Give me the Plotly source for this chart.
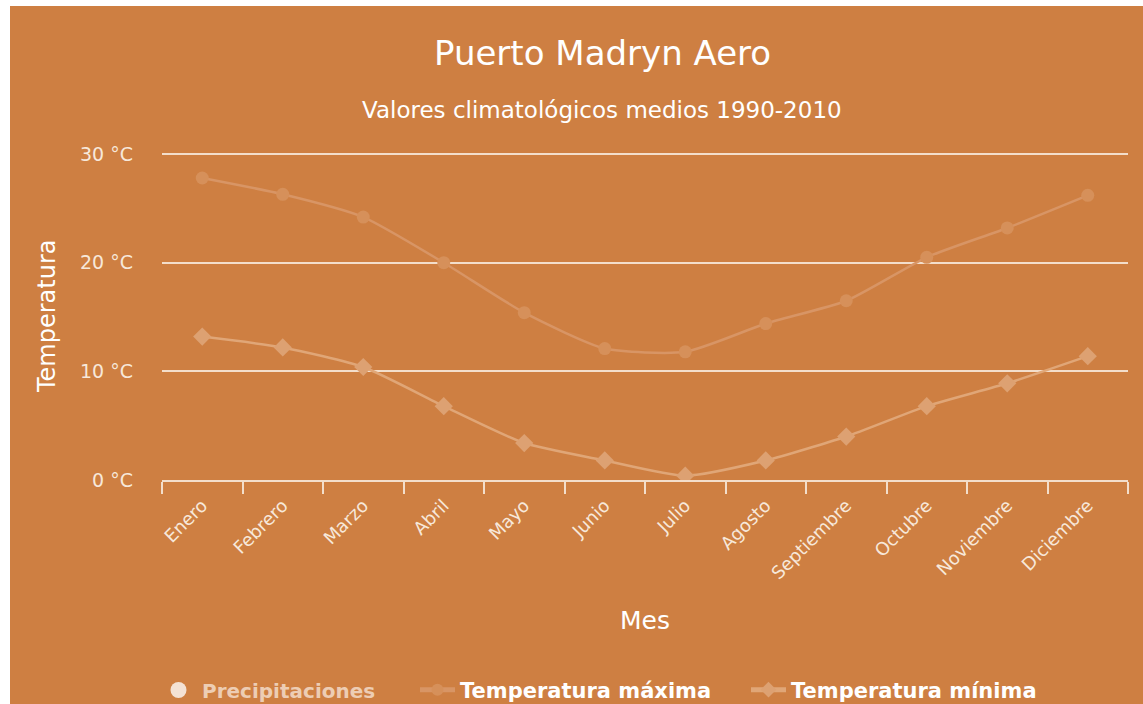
import plotly.graph_objects as go

meses = ["Enero", "Febrero", "Marzo", "Abril", "Mayo", "Junio", "Julio",
         "Agosto", "Septiembre", "Octubre", "Noviembre", "Diciembre"]
temp_max = [27.8, 26.3, 24.2, 20.0, 15.4, 12.1, 11.8, 14.4, 16.5, 20.5, 23.2, 26.2]
temp_min = [13.2, 12.2, 10.4, 6.8, 3.4, 1.8, 0.4, 1.8, 4.0, 6.8, 8.9, 11.4]
precipitaciones = [None] * 12
y_ticks = [0, 10, 20, 30]
y_tick_labels = ["0 °C", "10 °C", "20 °C", "30 °C"]

BG = "#CE7F42"
LIGHT = "#F3DECB"
TXT = "#F7E8DA"
FONT = "DejaVu Sans, Verdana, sans-serif"

W, H = 1143, 704
L, R, T, B = 162, 15, 153, 224
pw, ph = W - L - R, H - T - B


def px(x):
    return (x - L) / pw


def py(y):
    return (H - B - y) / ph


fig = go.Figure()
fig.add_trace(go.Scatter(
    x=meses, y=precipitaciones, name="Precipitaciones", mode="markers", legend="legend",
    marker=dict(symbol="circle", size=18, color="#F4E2D4")))
fig.add_trace(go.Scatter(
    x=meses, y=temp_max, name="Temperatura máxima", mode="lines+markers", legend="legend2",
    line=dict(color="#D89565", width=2.5, shape="spline", smoothing=0.6),
    marker=dict(symbol="circle", size=13, color="#D6905A")))
fig.add_trace(go.Scatter(
    x=meses, y=temp_min, name="Temperatura mínima", mode="lines+markers", legend="legend3",
    line=dict(color="#E0A677", width=2.5, shape="spline", smoothing=0.6),
    marker=dict(symbol="diamond", size=14, color="#DDA172")))

leg_common = dict(orientation="h", xanchor="left", yanchor="middle", y=py(690),
                  bgcolor="rgba(0,0,0,0)", borderwidth=0)

fig.update_layout(
    width=W, height=H,
    margin=dict(l=L, r=R, t=T, b=B, autoexpand=False),
    paper_bgcolor="white",
    plot_bgcolor="rgba(0,0,0,0)",
    showlegend=True,
    legend=dict(x=px(178 - 23), itemwidth=37,
                font=dict(family=FONT, size=20, color="#EDCDB4", weight="bold"), **leg_common),
    legend2=dict(x=px(437 - 22), itemsizing="constant", itemwidth=35,
                 font=dict(family=FONT, size=21, color="white", weight="bold"), **leg_common),
    legend3=dict(x=px(768 - 22), itemsizing="constant", itemwidth=35,
                 font=dict(family=FONT, size=21, color="white", weight="bold"), **leg_common),
    shapes=[dict(type="rect", xref="paper", yref="paper",
                 x0=px(10), x1=px(W + 5), y0=py(H + 5), y1=py(6),
                 fillcolor=BG, line=dict(width=0), layer="below")],
    xaxis=dict(type="category", categoryorder="array", categoryarray=meses,
               range=[-0.5, 11.5], showgrid=False, showline=True, linecolor=LIGHT, linewidth=2,
               ticks="outside", tickson="boundaries", ticklen=12, tickwidth=2, tickcolor=LIGHT,
               ticklabelstandoff=6,
               tickangle=-45, tickfont=dict(family=FONT, size=18, color=TXT)),
    yaxis=dict(range=[0, 30.1], tickvals=y_ticks, ticktext=y_tick_labels, showgrid=True,
               gridcolor=LIGHT, gridwidth=2, zeroline=False, showline=False,
               ticklabelstandoff=28,
               tickfont=dict(family=FONT, size=19, color=TXT)),
    annotations=[
        dict(text="Puerto Madryn Aero", x=px(602), y=py(53), xref="paper", yref="paper",
             showarrow=False, xanchor="center", yanchor="middle",
             font=dict(family=FONT, size=34, color="white")),
        dict(text="Valores climatológicos medios 1990-2010", x=px(602), y=py(110),
             xref="paper", yref="paper", showarrow=False, xanchor="center", yanchor="middle",
             font=dict(family=FONT, size=23, color="white")),
        dict(text="Temperatura", x=px(47), y=py(316), xref="paper", yref="paper",
             showarrow=False, xanchor="center", yanchor="middle", textangle=-90,
             font=dict(family=FONT, size=24, color="white")),
        dict(text="Mes", x=px(645), y=py(620), xref="paper", yref="paper",
             showarrow=False, xanchor="center", yanchor="middle",
             font=dict(family=FONT, size=25, color="white")),
    ],
)

fig.write_html("out.html", config={"displayModeBar": False},
               post_script="document.body.style.margin='0';document.body.style.padding='0';")
